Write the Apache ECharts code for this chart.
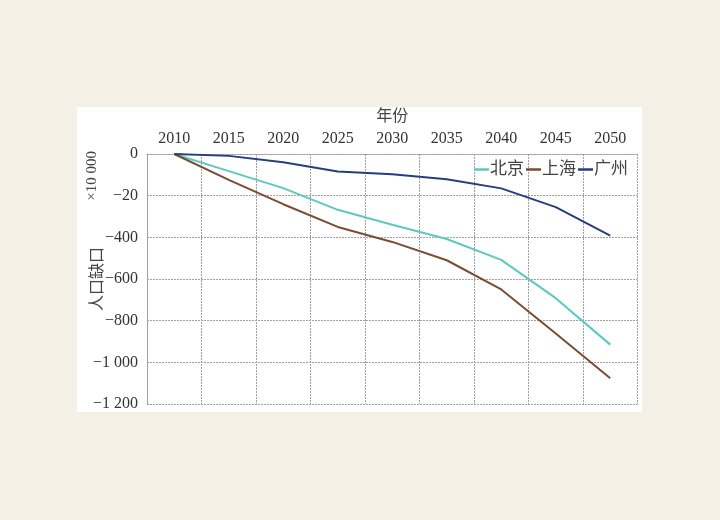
<!DOCTYPE html>
<html>
<head>
<meta charset="utf-8">
<script src="https://cdn.jsdelivr.net/npm/echarts@6/dist/echarts.min.js"></script>
<style>
    html, body { margin: 0; padding: 0; background: #f5f0e5; }
    #panel { position: absolute; left: 77px; top: 107px; width: 565px; height: 305px; background: #ffffff; }
    #main { position: absolute; left: 0; top: 0; width: 720px; height: 520px; }
</style>
</head>
<body>
<div id="panel"></div>
<div id="main"></div>
<script>
    // data
    var years = ['2010', '2015', '2020', '2025', '2030', '2035', '2040', '2045', '2050'];
    var beijing = [0, -82, -164, -268, -340, -408, -508, -692, -915];
    var shanghai = [0, -124, -241, -350, -422, -510, -650, -862, -1076];
    var guangzhou = [0, -9, -40, -84, -97, -121, -165, -255, -392];
    var yTicks = [0, -200, -400, -600, -800, -1000, -1200];
    var yTickLabels = ['0', '\u221220', '\u2212400', '\u2212600', '\u2212800', '\u22121 000', '\u22121 200'];

    var chartDom = document.getElementById('main');
    var myChart = echarts.init(chartDom);

    var font = "'Liberation Serif', 'Noto Sans CJK SC', serif";
    var gridLine = { color: '#a0a0a0', width: 1, type: [2, 1] };

    var option = {
        animation: false,
        backgroundColor: 'transparent',
        textStyle: { fontFamily: font },
        grid: { left: 147, top: 154, right: 82.5, bottom: 116, containLabel: false, outerBoundsMode: 'none' },
        legend: {
            right: 87,
            top: 156,
            itemGap: 2,
            itemWidth: 15,
            itemHeight: 2.5,
            icon: 'rect',
            textStyle: { fontSize: 17, color: '#444', fontFamily: font, padding: [0, 0, 0, -4] },
            data: ['北京', '上海', '广州']
        },
        graphic: [
            {
                type: 'text',
                left: 85,
                top: 151,
                rotation: Math.PI / 2,
                style: { text: '\u00d710 000', fontSize: 15, fill: '#444', fontFamily: font }
            }
        ],
        xAxis: {
            type: 'category',
            position: 'top',
            data: years,
            boundaryGap: true,
            name: '年份',
            nameLocation: 'middle',
            nameGap: 29,
            nameMoveOverlap: false,
            nameTextStyle: { fontSize: 16, color: '#444' },
            axisLine: { show: true, lineStyle: gridLine },
            axisTick: { show: false },
            axisLabel: { fontSize: 16, color: '#333', margin: 7 },
            splitLine: { show: true, lineStyle: gridLine }
        },
        yAxis: {
            type: 'value',
            min: -1200,
            max: 0,
            interval: 200,
            name: '人口缺口',
            nameLocation: 'middle',
            nameGap: 41,
            nameRotate: 90,
            nameMoveOverlap: false,
            nameTextStyle: { fontSize: 16, color: '#444' },
            axisLine: { show: true, lineStyle: gridLine },
            axisTick: { show: false },
            axisLabel: {
                fontSize: 16,
                color: '#333',
                margin: 9,
                formatter: function (v) {
                    var i = yTicks.indexOf(v);
                    return i >= 0 ? yTickLabels[i] : String(v);
                }
            },
            splitLine: { show: true, lineStyle: gridLine }
        },
        series: [
            {
                name: '北京',
                type: 'line',
                data: beijing,
                showSymbol: false,
                lineStyle: { width: 2, color: '#5cc8c4' },
                itemStyle: { color: '#5cc8c4' }
            },
            {
                name: '上海',
                type: 'line',
                data: shanghai,
                showSymbol: false,
                lineStyle: { width: 2, color: '#7a4d33' },
                itemStyle: { color: '#7a4d33' }
            },
            {
                name: '广州',
                type: 'line',
                data: guangzhou,
                showSymbol: false,
                lineStyle: { width: 2, color: '#243f7e' },
                itemStyle: { color: '#243f7e' }
            }
        ]
    };

    myChart.setOption(option);
</script>
</body>
</html>
